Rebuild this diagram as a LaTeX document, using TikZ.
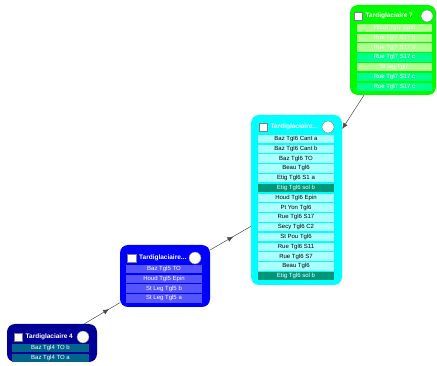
\documentclass[tikz,border=0pt]{standalone}
\usepackage{fontspec}
\setmainfont{Liberation Sans}
\usepackage{tikz}
\usetikzlibrary{positioning}
\usetikzlibrary{arrows.meta}
\usetikzlibrary{decorations.markings}
\definecolor{navyfour}{RGB}{0,0,150}
\definecolor{rowfour}{RGB}{0,100,140}
\definecolor{bluefive}{RGB}{0,0,255}
\definecolor{rowfive}{RGB}{85,85,255}
\definecolor{cyansix}{RGB}{0,255,255}
\definecolor{rowsix}{RGB}{170,255,255}
\definecolor{tealsix}{RGB}{0,150,120}
\definecolor{greenseven}{RGB}{0,250,0}
\definecolor{lightseven}{RGB}{175,255,145}
\definecolor{springseven}{RGB}{0,255,140}

\begin{document}
\begin{tikzpicture}[
    x=1pt, y=-1pt,
    groupnode/.style={rounded corners=8pt,inner sep=0pt},
    rownode/.style={inner sep=0pt,minimum height=8.5pt,font=\fontsize{6}{7}\selectfont},
    headbox/.style={draw=gray,fill=white,minimum size=8.5pt,inner sep=0pt},
    headdot/.style={draw=gray,fill=white,circle,minimum size=12pt,inner sep=0pt},
    headtitle/.style={text=white,inner sep=0pt,font=\fontsize{6.5}{8}\selectfont\bfseries},
    link/.style={draw=gray!60!black,line width=0.5pt},
    midarrow/.style={postaction={decorate},decoration={markings,
        mark=at position #1 with {\arrow{Latex[length=6pt,width=5pt]}}}}
    ]
    \useasboundingbox (0,0) rectangle (437,366);

    % Tardiglaciaire 4
    \node[groupnode, fill=navyfour, minimum width=90pt, minimum height=38pt] (t4) at (52,343) {};
    \node[headbox] (t4box) at (18,337) {};
    \node[headtitle, right=3pt of t4box] (t4title) {Tardiglaciaire 4};
    \node[headdot] (t4dot) at (83,337) {};
    \foreach \txt [count=\i] in {Baz Tgl4 TO b, Baz Tgl4 TO a}
        \node[rownode, fill=rowfour, text=white, minimum width=77pt] (t4r\i) at (50.5,{338.2+9.8*\i}) {\txt};

    % Tardiglaciaire 5
    \node[groupnode, fill=bluefive, minimum width=90pt, minimum height=62pt] (t5) at (165,276) {};
    \node[headbox] (t5box) at (131.5,258) {};
    \node[headtitle, right=3pt of t5box] (t5title) {Tardiglaciaire...};
    \node[headdot] (t5dot) at (195,258) {};
    \foreach \txt [count=\i] in {Baz Tgl5 TO, Houd Tgl5 Epin, St Leg Tgl5 b, St Leg Tgl5 a}
        \node[rownode, fill=rowfive, text=white, minimum width=76pt] (t5r\i) at (164,{259.2+9.8*\i}) {\txt};

    % Tardiglaciaire 6
    \node[groupnode, fill=cyansix, minimum width=91pt, minimum height=170pt] (t6) at (296.5,200) {};
    \node[headbox] (t6box) at (263,127) {};
    \node[headtitle, right=3pt of t6box] (t6title) {Tardiglaciaire...};
    \node[headdot] (t6dot) at (328,127) {};
    \foreach \txt/\fc/\tc [count=\i] in {Baz Tgl6 Cant a/rowsix/black, Baz Tgl6 Cant b/rowsix/black,
        Baz Tgl6 TO/rowsix/black, Beau Tgl6/rowsix/black, Etig Tgl6 S1 a/rowsix/black,
        Etig Tgl6 sol b/tealsix/white, Houd Tgl6 Epin/rowsix/black, Pt Yon Tgl6/rowsix/black,
        Rue Tgl6 S17/rowsix/black, Secy Tgl6 C2/rowsix/black, St Pou Tgl6/rowsix/black,
        Rue Tgl6 S11/rowsix/black, Rue Tgl6 S7/rowsix/black, Beau Tgl6/rowsix/black,
        Etig Tgl6 sol b/tealsix/white}
        \node[rownode, fill=\fc, text=\tc, minimum width=76pt] (t6r\i) at (296,{129.2+9.8*\i}) {\txt};

    % Tardiglaciaire 7
    \node[groupnode, fill=greenseven, minimum width=86pt, minimum height=90pt] (t7) at (393,50) {};
    \node[headbox] (t7box) at (358,16) {};
    \node[headtitle, right=3pt of t7box] (t7title) {Tardiglaciaire 7};
    \node[headdot] (t7dot) at (427,16) {};
    \foreach \txt/\fc [count=\i] in {Houd Tgl7 Epin/lightseven, Rue Tgl7 S17 b/lightseven,
        Rue Tgl7 S17 a/lightseven, Rue Tgl7 S17 c/springseven, St leg Tgl7/lightseven,
        Rue Tgl7 S17 c/springseven, Rue Tgl7 S17 c/springseven}
        \node[rownode, fill=\fc, text=white, minimum width=75pt] (t7r\i) at (394.5,{18.2+9.8*\i}) {\txt};

    \path[link, midarrow=0.7] (t4) -- (t5);
    \path[link, midarrow=0.57] (t5) -- (t6);
    \path (t7) edge[link, -{Latex[length=6pt,width=5pt]}] (t6);

\end{tikzpicture}
\end{document}
